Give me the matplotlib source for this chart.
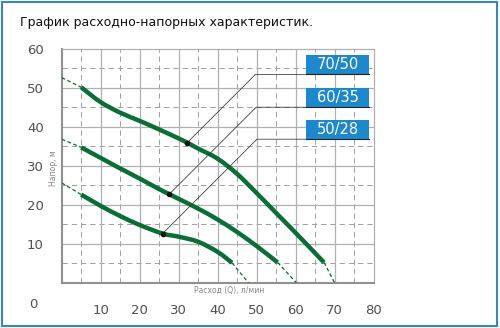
import matplotlib.pyplot as plt
from matplotlib.patches import Rectangle, PathPatch
from matplotlib.path import Path

# расход Q (л/мин) и напор H (м)
q_70 = [5, 10, 15, 20, 25, 30, 32.2, 35, 40, 45, 50, 55, 60, 65, 67.3]
h_70 = [50.1, 46.3, 43.6, 41.5, 39.3, 37.0, 35.9, 34.4, 31.8, 27.9, 23.0, 17.9, 12.8, 7.6, 5.2]
q_60 = [5, 10, 15, 20, 25, 27.6, 30, 35, 40, 45, 50, 55.4]
h_60 = [34.7, 32.0, 29.3, 26.7, 24.0, 22.7, 21.5, 19.0, 16.2, 13.0, 9.4, 5.2]
q_50 = [5, 10, 15, 20, 25.9, 30, 35, 40, 43.7]
h_50 = [22.6, 19.7, 17.1, 14.8, 12.6, 11.8, 10.5, 7.9, 5.1]

# пунктир: напор при Q=0 и расход при H=0
h_zero = [52.6, 36.8, 25.6]
q_max = [70, 60.2, 47.9]

models = ['70/50', '60/35', '50/28']
dot_idx = [6, 5, 4]

x_ticks = [10, 20, 30, 40, 50, 60, 70, 80]
y_ticks = [10, 20, 30, 40, 50, 60]

GREEN = '#0a6e36'
BLUE = '#1e88cc'


def smooth_path(xs, ys):
    # кривая Катмулла-Рома через точки, как безье
    pts = list(zip(xs, ys))
    verts = [pts[0]]
    codes = [Path.MOVETO]
    n = len(pts)
    for i in range(n - 1):
        p0 = pts[max(i - 1, 0)]
        p1 = pts[i]
        p2 = pts[i + 1]
        p3 = pts[min(i + 2, n - 1)]
        c1 = (p1[0] + (p2[0] - p0[0]) / 6, p1[1] + (p2[1] - p0[1]) / 6)
        c2 = (p2[0] - (p3[0] - p1[0]) / 6, p2[1] - (p3[1] - p1[1]) / 6)
        verts += [c1, c2, p2]
        codes += [Path.CURVE4] * 3
    return Path(verts, codes)


fig = plt.figure(figsize=(5, 3.28), dpi=100)
ax = fig.add_axes([0.1234, 0.1381, 0.6236, 0.7134])
ax.set_xlim(0, 80)
ax.set_ylim(0, 60)

# сетка
for v in range(5, 80, 10):
    ax.axvline(v, color='#a0a0a0', lw=0.7, ls=(0, (5.5, 4)), zorder=1)
for v in range(5, 60, 10):
    ax.axhline(v, color='#a0a0a0', lw=0.7, ls=(0, (5.5, 4)), zorder=1)
for v in range(10, 80, 10):
    ax.axvline(v, color='#b0b0b0', lw=0.9, zorder=1)
for v in range(10, 60, 10):
    ax.axhline(v, color='#b0b0b0', lw=0.9, zorder=1)

for s in ['top', 'right']:
    ax.spines[s].set_color('#b0b0b0')
    ax.spines[s].set_linewidth(0.9)
for s in ['left', 'bottom']:
    ax.spines[s].set_color('#909090')
    ax.spines[s].set_linewidth(1.5)

curves = [(q_70, h_70), (q_60, h_60), (q_50, h_50)]
box_bottom = [53.4, 45.0, 36.8]
for i, (q, h) in enumerate(curves):
    ax.add_patch(PathPatch(smooth_path(q, h), facecolor='none', edgecolor=GREEN, lw=3.2,
                           capstyle='butt', joinstyle='round', zorder=4))
    ax.plot([0, q[0]], [h_zero[i], h[0]], color=GREEN, lw=0.9, ls=(0, (3, 2)), zorder=3)
    ax.plot([q[-1], q_max[i]], [h[-1], 0], color=GREEN, lw=0.9, ls=(0, (3, 2)), zorder=3)

    # выноска
    dx, dy = q[dot_idx[i]], h[dot_idx[i]]
    by = box_bottom[i]
    ex = dx + (by - dy)
    ax.plot([dx, ex, 78.8], [dy, by, by], color='#333333', lw=0.55, zorder=5, clip_on=False)
    ax.plot(dx, dy, 'o', color='#111111', ms=3, zorder=6)
    ax.add_patch(Rectangle((62.8, by), 16.0, 4.9, facecolor=BLUE, edgecolor='none', zorder=6))
    ax.plot([62.8, 78.8], [by, by], color='#222222', lw=0.8, zorder=7)
    ax.text(70.8, by + 2.45, models[i], color='white', fontsize=10.5, ha='center', va='center', zorder=8)

ax.set_xticks(x_ticks)
ax.set_yticks(y_ticks)
ax.tick_params(length=0, labelsize=9.5, labelcolor='#505050')
ax.tick_params(axis='x', pad=15)
ax.tick_params(axis='y', pad=13)
fig.text(33 / 500, 1 - 305 / 328, '0', fontsize=9.5, color='#505050', ha='center', va='center')

fig.text(53 / 500, 1 - 168 / 328, 'Напор, м', fontsize=5.5, color='#888888', rotation=90,
         ha='center', va='center')
fig.text(229 / 500, 1 - 290 / 328, 'Расход (Q), л/мин', fontsize=5.5, color='#888888',
         ha='center', va='center')

fig.text(20 / 500, 1 - 22.5 / 328, 'График расходно-напорных характеристик.', fontsize=9,
         color='#111111', ha='left', va='center')

fig.patches.append(Rectangle((1.5 / 500, 2 / 328), 495.5 / 500, 324 / 328, transform=fig.transFigure,
                             fill=False, edgecolor='#3a86c0', lw=1.5))

fig.savefig('out.png', dpi=100)
